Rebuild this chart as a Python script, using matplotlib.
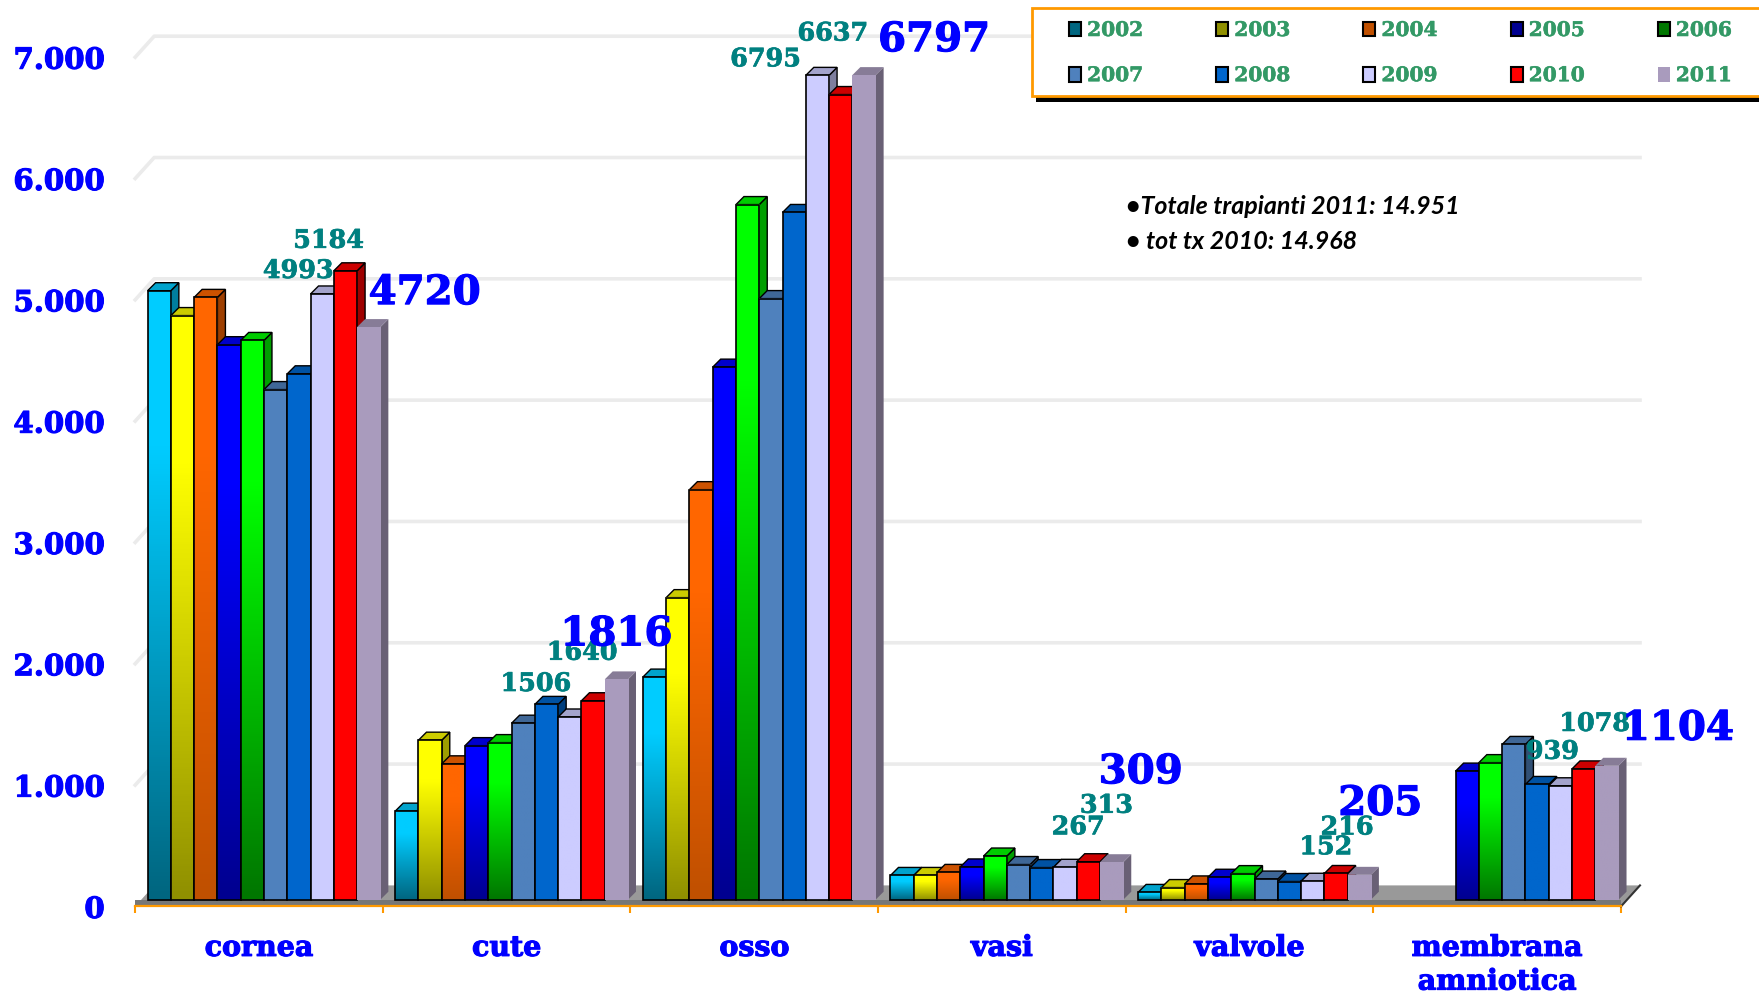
import numpy as np
import matplotlib
matplotlib.use('Agg')
from matplotlib import pyplot as plt
from matplotlib import patheffects as pe
from matplotlib.colors import LinearSegmentedColormap
from matplotlib.patches import Polygon, Rectangle

categories = ['cornea', 'cute', 'osso', 'vasi', 'valvole', 'membrana\namniotica']
years = ['2002', '2003', '2004', '2005', '2006', '2007', '2008', '2009', '2010', '2011']

cornea = [5020, 4815, 4965, 4575, 4610, 4205, 4335, 4993, 5184, 4720]
cute = [730, 1315, 1120, 1270, 1295, 1455, 1610, 1506, 1640, 1816]
osso = [1835, 2490, 3380, 4390, 5730, 4955, 5665, 6795, 6637, 6797]
vasi = [200, 200, 225, 270, 360, 290, 265, 267, 313, 309]
valvole = [60, 100, 130, 185, 215, 170, 150, 152, 216, 205]
membrana = [None, None, None, 1060, 1130, 1280, 950, 939, 1078, 1104]
series = [cornea, cute, osso, vasi, valvole, membrana]

yticks = [0, 1000, 2000, 3000, 4000, 5000, 6000, 7000]
yticklabels = ['0', '1.000', '2.000', '3.000', '4.000', '5.000', '6.000', '7.000']

bright = ['#00ccff', '#ffff00', '#ff6600', '#0000ff', '#00ff00', '#4f81bd', '#0066cc', '#ccccff', '#ff0000', '#a99bbd']
dark = ['#006680', '#909000', '#c05000', '#000090', '#007700', '#4f81bd', '#0066cc', '#ccccff', '#ff0000', '#a99bbd']

# label offsets from the top of the bar, in pixels (group, year index, dx, dy)
label_offsets = [
    (0, 7, -24, 23), (0, 8, -17, 30), (0, 9, 56, 34),
    (1, 7, -34, 33), (1, 8, -11, 48), (1, 9, 0, 45),
    (2, 7, -52, 16), (2, 8, -8, 61), (2, 9, 70, 35),
    (3, 7, 13, 40), (3, 8, 18, 56), (3, 9, 29, 90),
    (4, 7, 13, 34), (4, 8, 11, 46), (4, 9, 21, 71),
    (5, 7, -8, 34), (5, 8, 11, 45), (5, 9, 71, 37),
]

W, H = 1759, 996
fig = plt.figure(figsize=(W / 100, H / 100), dpi=100, facecolor='white')
left, right, top, bottom = 135.2, 1621.0, 57.2, 906.4
ax = fig.add_axes([left / W, 1 - bottom / H, (right - left) / W, (bottom - top) / H])
ax.patch.set_visible(False)

# data units per pixel
sx = 6 / (right - left)
sy = 7000 / (bottom - top)

serif = dict(family='DejaVu Serif', weight='bold')

# back wall grid and the floor
wall_dx, wall_dy = 19 * sx, 21 * sy
for v in yticks[1:]:
    ax.plot([0, wall_dx, 6 + wall_dx], [v, v + wall_dy, v + wall_dy], color='#ebebeb', lw=2.6, zorder=1, clip_on=False)
ax.add_patch(Polygon([(0, 0), (6, 0), (6 + wall_dx, wall_dy), (wall_dx, wall_dy)], fc='#999999', ec='none', zorder=2, clip_on=False))
ax.add_patch(Rectangle((0, 0), 6, 6.5 * sy, fc='#777777', ec='none', zorder=2.1))
ax.plot([6, 6 + wall_dx], [0, wall_dy], color='#333333', lw=1.5, zorder=2.2, clip_on=False)

# bars
bar_w = 0.094
base = 6.7 * sy
side_dx, side_dy = 8 * sx, 8 * sy
z = 3
for g, vals in enumerate(series):
    for i, v in enumerate(vals):
        if v is None:
            continue
        x0 = g + 0.05 + bar_w * i
        x1 = x0 + bar_w
        y0, y1 = base, base + v
        ec = 'none' if i == 9 else 'black'
        top_col = np.array(matplotlib.colors.to_rgb(bright[i]))
        ax.add_patch(Polygon([(x1, y0), (x1 + side_dx, y0 + side_dy), (x1 + side_dx, y1 + side_dy), (x1, y1)],
                             fc=top_col * 0.62, ec=ec, lw=1.0, zorder=z, clip_on=False))
        ax.add_patch(Polygon([(x0, y1), (x1, y1), (x1 + side_dx, y1 + side_dy), (x0 + side_dx, y1 + side_dy)],
                             fc=top_col * 0.8, ec=ec, lw=1.0, zorder=z, clip_on=False))
        cmap = LinearSegmentedColormap.from_list('b', [(0, dark[i]), (0.75, bright[i]), (1, bright[i])])
        ax.imshow(np.linspace(1, 0, 64).reshape(-1, 1), cmap=cmap, vmin=0, vmax=1, aspect='auto',
                  extent=(x0, x1, y0, y1), zorder=z + 0.1, clip_on=False, interpolation='bilinear')
        ax.add_patch(Rectangle((x0, y0), bar_w, v, fc='none', ec=ec, lw=1.2, zorder=z + 0.2, clip_on=False))
        z += 0.3

# thicken the serif text a little, the original letters are heavier
blue_stroke = [pe.withStroke(linewidth=0.8, foreground='#0000ff')]
teal_stroke = [pe.withStroke(linewidth=0.5, foreground='#008080')]

# value labels
for g, i, dx, dy in label_offsets:
    v = series[g][i]
    x = g + 0.05 + bar_w * (i + 0.5)
    big = i == 9
    ax.annotate(str(v), xy=(x, base + v), xytext=(dx, dy), textcoords='offset pixels',
                ha='center', va='center', color='#0000ff' if big else '#008080',
                fontsize=29 if big else 18.3, zorder=30,
                path_effects=blue_stroke if big else teal_stroke, **serif)

# axes
ax.set_xlim(0, 6)
ax.set_ylim(0, 7000)
for s in ['top', 'left', 'right']:
    ax.spines[s].set_visible(False)
ax.spines['bottom'].set_color('#ff9900')
ax.spines['bottom'].set_linewidth(1.6)
ax.spines['bottom'].set_zorder(25)
ax.set_yticks(yticks)
ax.set_yticklabels(yticklabels, color='#0000ff', fontsize=21, path_effects=blue_stroke, **serif)
ax.tick_params(axis='y', length=0, pad=22)
for t in ax.get_yticklabels():
    t.set_y(t.get_position()[1])
ax.set_xticks(range(7))
ax.set_xticklabels([])
ax.tick_params(axis='x', which='major', color='#ff9900', length=5, width=1.5)
ax.set_xticks(np.arange(6) + 0.5, minor=True)
ax.set_xticklabels(categories, minor=True, color='#0000ff', fontsize=20.5, linespacing=1.32,
                   path_effects=blue_stroke, **serif)
ax.tick_params(axis='x', which='minor', length=0, pad=20.5)

ax.text(4.0, 5770, '\u2022Totale trapianti 2011: 14.951', family='Lato', style='italic', weight='bold',
        fontsize=18, va='center', color='black', zorder=30)
ax.text(4.0, 5483, '\u2022 tot tx 2010: 14.968', family='Lato', style='italic', weight='bold',
        fontsize=18, va='center', color='black', zorder=30)

# legend box with its shadow
ax.add_patch(Rectangle((1036 / W, 1 - 102 / H), (W - 1036) / W, 12 / H, transform=fig.transFigure,
                       fc='black', ec='none', zorder=40, clip_on=False))
ax.add_patch(Rectangle((1032 / W, 1 - 96 / H), (W + 20 - 1032) / W, 88 / H, transform=fig.transFigure,
                       fc='white', ec='#ff9900', lw=2, zorder=41, clip_on=False))
handles = [Rectangle((0, 0), 1, 1, fc=dark[i], ec='none' if i == 9 else 'black', lw=1.5) for i in range(10)]
# matplotlib fills columns first, so hand the years over column by column
order = [0, 5, 1, 6, 2, 7, 3, 8, 4, 9]
leg = ax.legend([handles[i] for i in order], [years[i] for i in order], ncol=5, loc='upper left',
                bbox_to_anchor=(1069 / W, 1 - 20 / H), bbox_transform=fig.transFigure, frameon=False,
                borderpad=0, borderaxespad=0, handlelength=0.6, handleheight=0.75, handletextpad=0.3,
                columnspacing=3.62, labelspacing=1.25, prop=dict(family='DejaVu Serif', weight='bold', size=14.5))
for t in leg.get_texts():
    t.set_color('#339966')
    t.set_path_effects([pe.withStroke(linewidth=0.4, foreground='#339966')])
leg.set_zorder(42)

fig.savefig('out.png', dpi=100)
